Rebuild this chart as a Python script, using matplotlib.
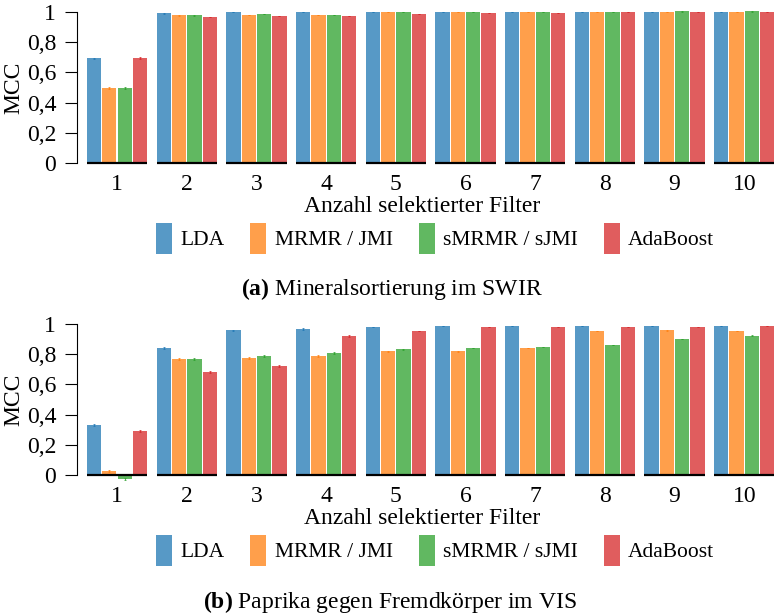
import numpy as np
import matplotlib.pyplot as plt

plt.rcParams['font.family'] = ['Liberation Serif', 'DejaVu Serif']
plt.rcParams['mathtext.fontset'] = 'custom'
plt.rcParams['mathtext.rm'] = 'Liberation Serif'
plt.rcParams['mathtext.bf'] = 'Liberation Serif:bold'

# ---- data ----
n_filter = ["1", "2", "3", "4", "5", "6", "7", "8", "9", "10"]
methods = ["LDA", "MRMR / JMI", "sMRMR / sJMI", "AdaBoost"]
colors = ["#1f77b4", "#ff7f0e", "#2ca02c", "#d62728"]
yticks = [0, 0.2, 0.4, 0.6, 0.8, 1.0]
ytick_labels = ["0", "0,2", "0,4", "0,6", "0,8", "1"]

# (a) Mineralsortierung im SWIR
swir_lda = [0.693, 0.991, 0.999, 0.999, 1.0, 1.0, 1.0, 1.0, 1.0, 1.0]
swir_mrmr = [0.497, 0.980, 0.980, 0.980, 1.0, 1.0, 1.0, 1.0, 1.0, 1.0]
swir_smrmr = [0.497, 0.980, 0.987, 0.980, 1.0, 1.0, 1.0, 1.0, 1.004, 1.004]
swir_ada = [0.695, 0.967, 0.974, 0.973, 0.987, 0.993, 0.993, 1.0, 1.0, 1.0]
swir_err = [0.005, 0.003, 0.002, 0.002, 0.001, 0.001, 0.001, 0.001, 0.001, 0.001]

# (b) Paprika gegen Fremdkörper im VIS
vis_lda = [0.331, 0.841, 0.958, 0.967, 0.980, 0.987, 0.987, 0.987, 0.987, 0.987]
vis_mrmr = [0.026, 0.768, 0.775, 0.788, 0.821, 0.821, 0.841, 0.954, 0.960, 0.954]
vis_smrmr = [-0.026, 0.768, 0.788, 0.808, 0.834, 0.841, 0.848, 0.861, 0.901, 0.921]
vis_ada = [0.291, 0.682, 0.722, 0.921, 0.954, 0.980, 0.980, 0.980, 0.980, 0.987]
vis_err = [0.005, 0.004, 0.004, 0.004, 0.003, 0.003, 0.003, 0.003, 0.003, 0.003]

panels = [
    ([swir_lda, swir_mrmr, swir_smrmr, swir_ada], swir_err,
     r"$\mathbf{(a)}$ Mineralsortierung im SWIR"),
    ([vis_lda, vis_mrmr, vis_smrmr, vis_ada], vis_err,
     r"$\mathbf{(b)}$ Paprika gegen Fremdkörper im VIS"),
]

fig = plt.figure(figsize=(7.74, 6.15), dpi=100)

# layout (figure fractions)
ax_bottoms = [0.7251, 0.2178]
leg_y = [0.6124, 0.1050]
cap_y = [0.5203, 0.0108]
cap_x = [0.506, 0.504]

x = np.arange(len(n_filter))
pitch = 0.22
bw = 0.205
fs = 17

for p, (series, err, caption) in enumerate(panels):
    ax = fig.add_axes([0.0995, ax_bottoms[p], 0.9005, 0.2627])
    handles = []
    for k, vals in enumerate(series):
        off = (k - 1.5) * pitch
        b = ax.bar(x + off, vals, width=bw, color=colors[k], alpha=0.75,
                   linewidth=0, zorder=2, label=methods[k])
        ax.errorbar(x + off, vals, yerr=err, fmt='none', ecolor=colors[k],
                    elinewidth=0.8, capsize=1.0, capthick=0.6, alpha=0.8,
                    zorder=4)
        handles.append(b)

    # black base line under each group
    half = 1.5 * pitch + bw / 2
    ax.hlines(np.zeros(len(x)), x - half, x + half, colors='black',
              linewidth=1.6, zorder=3)

    ax.set_xlim(-0.574, 9.426)
    ax.set_ylim(-0.04, 1.03)
    ax.set_xticks(x)
    ax.set_xticklabels(n_filter, fontsize=fs)
    ax.set_yticks(yticks)
    ax.set_yticklabels(ytick_labels, fontsize=fs)
    ax.tick_params(axis='x', length=0, pad=3.5)
    ax.tick_params(axis='y', length=8.5, width=0.8, pad=6.5)

    for s in ['top', 'right', 'bottom']:
        ax.spines[s].set_visible(False)
    ax.spines['left'].set_bounds(0, 1)
    ax.spines['left'].set_linewidth(0.8)

    ax.set_ylabel("MCC", fontsize=fs)
    ax.yaxis.set_label_coords(-0.075, 0.505)
    ax.set_xlabel("Anzahl selektierter Filter", fontsize=fs, va='baseline')
    ax.xaxis.set_label_coords(0.4957, -0.266)

    fig.legend(handles, methods, loc='center', bbox_to_anchor=(0.562, leg_y[p]),
               ncol=4, frameon=False, fontsize=15.5, handlelength=0.75,
               handleheight=1.867, handletextpad=0.38, columnspacing=1.2,
               borderpad=0, borderaxespad=0)

    fig.text(cap_x[p], cap_y[p], caption, ha='center', va='baseline', fontsize=fs)

plt.savefig("out.png", dpi=100)
